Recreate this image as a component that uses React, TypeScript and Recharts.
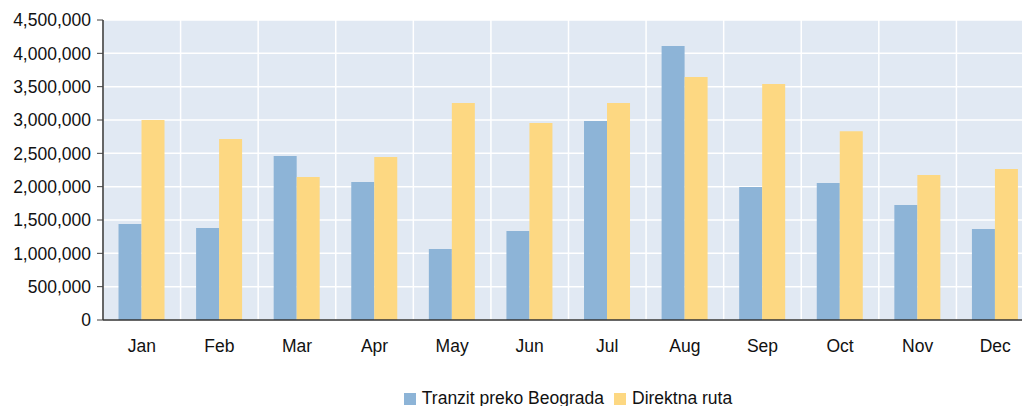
import React from 'react';
import { BarChart, Bar, XAxis, YAxis, CartesianGrid, Legend } from 'recharts';

const months = ['Jan', 'Feb', 'Mar', 'Apr', 'May', 'Jun', 'Jul', 'Aug', 'Sep', 'Oct', 'Nov', 'Dec'];
const tranzit = [1440000, 1380000, 2460000, 2070000, 1065000, 1335000, 2985000, 4110000, 1995000, 2055000, 1725000, 1365000];
const direktna = [3000000, 2715000, 2145000, 2445000, 3255000, 2955000, 3255000, 3645000, 3540000, 2830000, 2175000, 2265000];
const yTicks = [0, 500000, 1000000, 1500000, 2000000, 2500000, 3000000, 3500000, 4000000, 4500000];
const boundaryTicks = [0, 1, 2, 3, 4, 5, 6, 7, 8, 9, 10, 11, 12];
const seriesOrder = ['Tranzit preko Beograda', 'Direktna ruta'];

const data = months.map((m, i) => ({ month: m, idx: i + 0.5, tranzit: tranzit[i], direktna: direktna[i] }));

const font = '"Liberation Sans", Arial, sans-serif';

export default function App() {
  return (
    <div style={{ position: 'absolute', left: 0, top: 0, width: 1022, height: 406, overflow: 'hidden', background: '#fff' }}>
      <BarChart
        width={1132}
        height={406}
        data={data}
        margin={{ top: 20, right: 98, bottom: 0, left: 0 }}
        barCategoryGap="20%"
        barGap={0}
        style={{ fontFamily: font }}
      >
        <CartesianGrid xAxisId="num" fill="#E1E9F3" stroke="#FFFFFF" strokeWidth={1.5} />
        <XAxis
          xAxisId="num"
          type="number"
          dataKey="idx"
          domain={[0, 12]}
          ticks={boundaryTicks}
          allowDataOverflow
          height={0}
          axisLine={false}
          tickLine={{ stroke: '#404040' }}
          tickSize={6}
          tickFormatter={() => ''}
        />
        <XAxis
          xAxisId="cat"
          dataKey="month"
          height={30}
          axisLine={{ stroke: '#333', strokeWidth: 1.5 }}
          tickLine={false}
          tick={{ fill: '#111', fontSize: 17.5, fontFamily: font }}
          tickMargin={14}
        />
        <YAxis
          domain={[0, 4500000]}
          ticks={yTicks}
          width={103}
          axisLine={{ stroke: '#333', strokeWidth: 1.5 }}
          tickLine={{ stroke: '#404040' }}
          tickSize={6}
          tickMargin={6}
          tick={{ fill: '#111', fontSize: 17.5, fontFamily: font }}
          tickFormatter={(v: number) => v.toLocaleString('en-US')}
        />
        <Legend
          verticalAlign="bottom"
          iconType="square"
          iconSize={12}
          itemSorter={(item: any) => seriesOrder.indexOf(item.value)}
          wrapperStyle={{ left: 7, width: 1132, height: 56, paddingTop: 38, boxSizing: 'border-box', fontSize: 17.5, fontFamily: font, color: '#111' }}
          formatter={(value: string) => <span style={{ color: '#111', marginLeft: 2 }}>{value}</span>}
        />
        <Bar xAxisId="cat" dataKey="tranzit" name="Tranzit preko Beograda" fill="#8DB4D7" isAnimationActive={false} />
        <Bar xAxisId="cat" dataKey="direktna" name="Direktna ruta" fill="#FDD882" isAnimationActive={false} />
      </BarChart>
    </div>
  );
}
